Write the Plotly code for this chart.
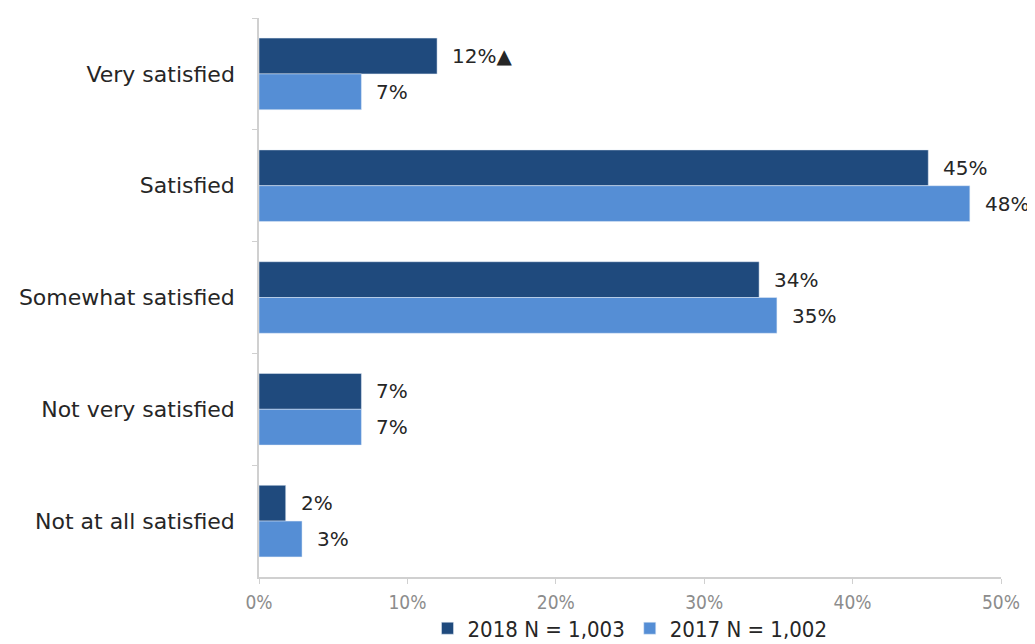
import plotly.graph_objects as go

categories = ["Very satisfied", "Satisfied", "Somewhat satisfied", "Not very satisfied", "Not at all satisfied"]
values_2018 = [12.0, 45.1, 33.7, 6.9, 1.8]
values_2017 = [6.9, 47.9, 34.9, 6.9, 2.9]
labels_2018 = ["12%\u25b2", "45%", "34%", "7%", "2%"]
labels_2017 = ["7%", "48%", "35%", "7%", "3%"]
series_names = ["2018 N = 1,003", "2017 N = 1,002"]
x_ticks = [0, 10, 20, 30, 40, 50]

FONT = "'DejaVu Sans', sans-serif"
NARROW = "'Liberation Sans Narrow', 'DejaVu Sans Condensed', sans-serif"
DARK = "#1f4a7d"
LIGHT = "#558ed5"

fig = go.Figure()
fig.add_trace(go.Bar(y=categories, x=values_2018, orientation="h", name=series_names[0],
                     marker={"color": DARK}))
fig.add_trace(go.Bar(y=categories, x=values_2017, orientation="h", name=series_names[1],
                     marker={"color": LIGHT}))

# data labels, placed just right of each bar end
for vals, labs, shift in [(values_2018, labels_2018, 18), (values_2017, labels_2017, -18)]:
    for cat, v, lab in zip(categories, vals, labs):
        fig.add_annotation(x=v, y=cat, text=lab, showarrow=False, xanchor="left",
                           xshift=13, yshift=shift, font={"size": 20, "color": "#262626", "family": FONT})

# page body adds an 8px offset, so margins are shifted by that much
fig.update_layout(
    barmode="group",
    bargap=0.36,
    bargroupgap=0,
    width=1035,
    height=644,
    margin={"l": 251, "r": 42, "t": 10, "b": 75, "autoexpand": False},
    plot_bgcolor="white",
    paper_bgcolor="white",
    font={"family": FONT, "color": "#262626"},
    legend={"orientation": "h", "x": 0.5, "xanchor": "center", "y": -0.092, "yanchor": "middle",
            "font": {"size": 22, "color": "#262626", "family": "'DejaVu Sans Condensed', sans-serif"},
            "traceorder": "normal", "itemwidth": 30, "bgcolor": "rgba(0,0,0,0)"},
    showlegend=True,
)
fig.update_xaxes(
    range=[0, 50], tickvals=x_ticks, ticktext=[f"{t}%" for t in x_ticks],
    showgrid=False, zeroline=False, showline=True, linecolor="#d0d0d0", linewidth=1.5,
    ticks="outside", ticklen=5, tickcolor="#d0d0d0", ticklabelstandoff=2,
    tickfont={"size": 19, "color": "#8c8c8c", "family": NARROW},
)
fig.update_yaxes(
    autorange="reversed", showgrid=False, showline=True, linecolor="#d0d0d0", linewidth=1.5,
    ticks="outside", ticklen=5, tickcolor="#d0d0d0", tickson="boundaries",
    ticklabelstandoff=18, automargin=False,
    tickfont={"size": 22, "color": "#262626", "family": FONT},
)

fig.write_html("out.html")
